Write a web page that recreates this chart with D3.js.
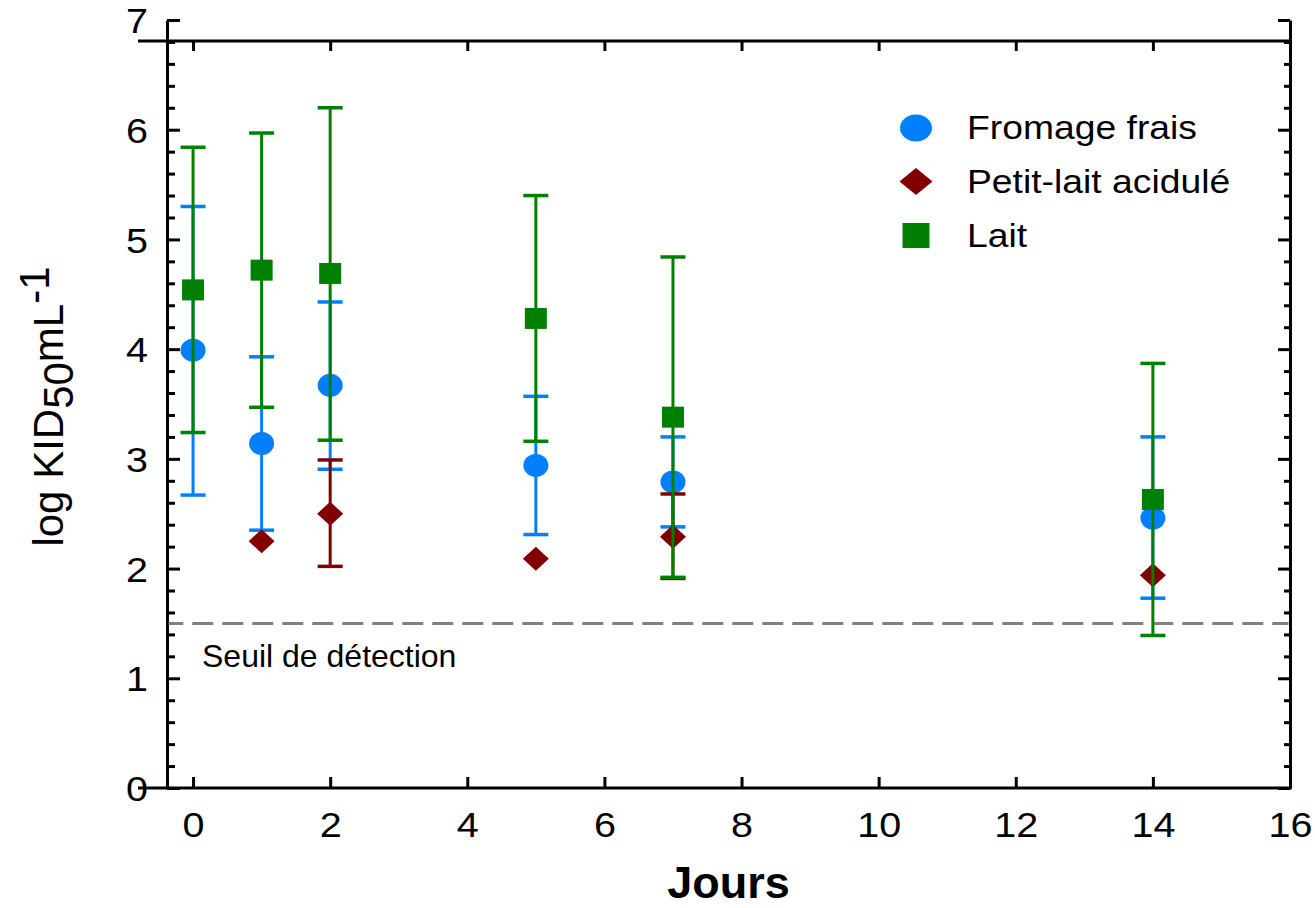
<!DOCTYPE html>
<html>
<head>
<meta charset="utf-8">
<script src="https://cdn.jsdelivr.net/npm/d3@7"></script>
<style>
  html, body { margin: 0; padding: 0; background: #fff; }
  svg { display: block; }
  text { font-family: "Liberation Sans", Arial, sans-serif; fill: #000; }
</style>
</head>
<body>
<svg id="chart" width="1315" height="908"></svg>
<script>
// ---- data ----
const days = [0, 1, 2, 5, 7, 14];

const fromageMean  = [3.99, 3.14, 3.67, 2.94, 2.79, 2.46];
const fromageUpper = [5.30, 3.93, 4.43, 3.57, 3.20, 3.20];
const fromageLower = [2.67, 2.35, 2.905, 2.31, 2.38, 1.73];

const petitDays  = [1, 2, 5, 7, 14];
const petitMean  = [2.25, 2.50, 2.09, 2.29, 1.94];
const petitUpper = [null, 2.99, null, 2.68, null];
const petitLower = [null, 2.02, null, 1.91, null];

const laitMean  = [4.54, 4.72, 4.69, 4.28, 3.38, 2.63];
const laitUpper = [5.84, 5.97, 6.20, 5.40, 4.84, 3.87];
const laitLower = [3.24, 3.47, 3.17, 3.16, 1.92, 1.39];

const xTicks = [0, 2, 4, 6, 8, 10, 12, 14, 16];
const yTicks = [0, 1, 2, 3, 4, 5, 6, 7];
const detectionLimit = 1.5;
const seriesNames = ["Fromage frais", "Petit-lait acidulé", "Lait"];

// ---- layout ----
const COL = { fromage: "#0080FF", petit: "#800000", lait: "#008000" };
const svg = d3.select("#chart");
const x = d3.scaleLinear().domain([-0.38, 16]).range([167, 1290]);
const y = d3.scaleLinear().domain([0, 7]).range([788, 20]);
const frameTop = 41, extLeft = 138;
const SX = 1.13;

// ---- axes ----
const minor = d3.range(0, 7.0001, 0.2).filter(v => Math.abs(v - Math.round(v)) > 1e-6);
svg.append("g").attr("transform", `translate(${x.range()[0]},0)`)
  .call(d3.axisLeft(y).tickValues(minor).tickSizeInner(-8).tickSizeOuter(0).tickFormat(""))
  .call(g => g.select(".domain").remove())
  .call(g => g.selectAll("line").attr("stroke", "#000").attr("stroke-width", 3));
const gl = svg.append("g").attr("transform", `translate(${x.range()[0]},0)`)
  .call(d3.axisLeft(y).tickValues(yTicks).tickSizeInner(-13).tickSizeOuter(0).tickPadding(19).tickFormat(d3.format("d")));
gl.select(".domain").attr("stroke", "#000").attr("stroke-width", 3);
gl.selectAll("line").attr("stroke", "#000").attr("stroke-width", 3);
gl.selectAll("text").attr("font-size", 35).attr("x", 0).attr("dy", "0.36em")
  .attr("transform", `translate(-19,0) scale(${SX},1)`)
  .style("font-family", '"Liberation Sans", Arial, sans-serif');

svg.append("g").attr("transform", `translate(${x.range()[1]},0)`)
  .call(d3.axisLeft(y).tickValues(minor).tickSizeInner(6).tickSizeOuter(0).tickFormat(""))
  .call(g => g.select(".domain").remove())
  .call(g => g.selectAll("line").attr("stroke", "#000").attr("stroke-width", 3));
const gr = svg.append("g").attr("transform", `translate(${x.range()[1]},0)`)
  .call(d3.axisLeft(y).tickValues(yTicks).tickSizeInner(12).tickSizeOuter(0).tickFormat(""));
gr.select(".domain").attr("stroke", "#000").attr("stroke-width", 3);
gr.selectAll("line").attr("stroke", "#000").attr("stroke-width", 3);

const gb = svg.append("g").attr("transform", `translate(0,${y(0)})`)
  .call(d3.axisBottom(x).tickValues(xTicks).tickSizeInner(-11).tickSizeOuter(0).tickPadding(24).tickFormat(d3.format("d")));
gb.select(".domain").remove();
gb.selectAll("line").attr("stroke", "#000").attr("stroke-width", 3);
gb.selectAll("text").attr("font-size", 35).attr("transform", `scale(${SX},1)`)
  .style("font-family", '"Liberation Sans", Arial, sans-serif');
svg.append("line").attr("x1", extLeft).attr("x2", x.range()[1] + 1.5)
  .attr("y1", y(0)).attr("y2", y(0)).attr("stroke", "#000").attr("stroke-width", 3);

const gt = svg.append("g").attr("transform", `translate(0,${frameTop})`)
  .call(d3.axisTop(x).tickValues(xTicks).tickSizeInner(-10).tickSizeOuter(0).tickFormat(""));
gt.select(".domain").remove();
gt.selectAll("line").attr("stroke", "#000").attr("stroke-width", 3);
svg.append("line").attr("x1", extLeft).attr("x2", x.range()[1] + 1.5)
  .attr("y1", frameTop).attr("y2", frameTop).attr("stroke", "#000").attr("stroke-width", 3);

// detection limit
svg.append("line")
  .attr("x1", x.range()[0] + 1.5).attr("x2", x.range()[1] - 1.5)
  .attr("y1", y(detectionLimit)).attr("y2", y(detectionLimit))
  .attr("stroke", "#808080").attr("stroke-width", 3)
  .attr("stroke-dasharray", "21,9").attr("stroke-dashoffset", 6.2);
svg.append("text").attr("x", 202).attr("y", 667).attr("font-size", 32)
  .text("Seuil de détection");

// ---- error bars + markers ----
function errorBars(xs, lo, hi, color) {
  const g = svg.append("g");
  xs.forEach((d, i) => {
    if (lo[i] == null || hi[i] == null) return;
    g.append("line").attr("x1", x(d)).attr("x2", x(d))
      .attr("y1", y(lo[i])).attr("y2", y(hi[i]))
      .attr("stroke", color).attr("stroke-width", 3);
    [lo[i], hi[i]].forEach(v => {
      g.append("line").attr("x1", x(d) - 12.5).attr("x2", x(d) + 12.5)
        .attr("y1", y(v)).attr("y2", y(v))
        .attr("stroke", color).attr("stroke-width", 3.5);
    });
  });
}
function diamondPath(w, h) { return `M0,${-h}L${w},0L0,${h}L${-w},0Z`; }

errorBars(days, fromageLower, fromageUpper, COL.fromage);
svg.append("g").selectAll("ellipse").data(days).join("ellipse")
  .attr("cx", d => x(d)).attr("cy", (d, i) => y(fromageMean[i]))
  .attr("rx", 12.5).attr("ry", 11.5).attr("fill", COL.fromage);

errorBars(petitDays, petitLower, petitUpper, COL.petit);
svg.append("g").selectAll("path").data(petitDays).join("path")
  .attr("d", diamondPath(13, 12))
  .attr("transform", (d, i) => `translate(${x(d)},${y(petitMean[i])})`)
  .attr("fill", COL.petit);

errorBars(days, laitLower, laitUpper, COL.lait);
svg.append("g").selectAll("rect").data(days).join("rect")
  .attr("x", d => x(d) - 11).attr("y", (d, i) => y(laitMean[i]) - 10.5)
  .attr("width", 22).attr("height", 21).attr("fill", COL.lait);

// ---- legend ----
const lg = svg.append("g");
const legendRows = [
  { name: seriesNames[0], color: COL.fromage, type: "circle", cy: 128, base: 139 },
  { name: seriesNames[1], color: COL.petit, type: "diamond", cy: 181.5, base: 193 },
  { name: seriesNames[2], color: COL.lait, type: "square", cy: 235.5, base: 247 }
];
legendRows.forEach(r => {
  if (r.type === "circle")
    lg.append("ellipse").attr("cx", 916).attr("cy", r.cy).attr("rx", 16).attr("ry", 13.5).attr("fill", r.color);
  else if (r.type === "diamond")
    lg.append("path").attr("d", diamondPath(16.5, 13.5)).attr("transform", `translate(916,${r.cy})`).attr("fill", r.color);
  else
    lg.append("rect").attr("x", 916 - 13.5).attr("y", r.cy - 12.5).attr("width", 27).attr("height", 25).attr("fill", r.color);
  lg.append("text").attr("transform", `translate(967,${r.base}) scale(${SX},1)`)
    .attr("font-size", 33).text(r.name);
});

// ---- axis titles ----
svg.append("text").attr("x", (x.range()[0] + x.range()[1]) / 2).attr("y", 898)
  .attr("text-anchor", "middle").attr("font-size", 45).attr("font-weight", "bold")
  .text("Jours");

const yl = svg.append("text")
  .attr("transform", `translate(63,${(268 + 545) / 2}) rotate(-90)`)
  .attr("text-anchor", "middle").attr("font-size", 42);
yl.append("tspan").text("log KID");
yl.append("tspan").attr("dy", 10).text("50");
yl.append("tspan").attr("dy", -10).text("mL");
yl.append("tspan").attr("dy", -14).text("-1");
</script>
</body>
</html>
